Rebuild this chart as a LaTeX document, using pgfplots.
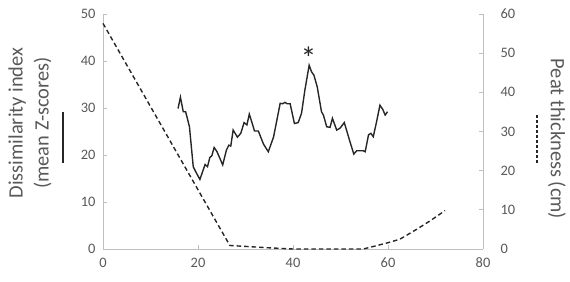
\documentclass[border=0pt]{standalone}
\usepackage{fontspec}
\setmainfont{Carlito}
\usepackage{pgfplots}
\pgfplotsset{compat=1.18}
\definecolor{axgray}{HTML}{BFBFBF}
\definecolor{txtgray}{HTML}{595959}
\definecolor{lncol}{HTML}{262626}
\begin{document}
\begin{tikzpicture}[x=1bp,y=1bp]
\path[use as bounding box] (-103,-32) rectangle (467,249);
\pgfplotsset{
  every axis/.append style={
    scale only axis, width=380bp, height=235bp,
    at={(0,0)}, anchor=origin,
    xmin=0, xmax=80,
    axis line style={axgray, line width=0.8pt},
    tick style={axgray, line width=0.8pt},
    major tick length=4bp,
    tick label style={font=\fontsize{14.5}{16}\selectfont, text=txtgray},
    /pgf/number format/assume math mode=true,
    clip=false,
  }
}
\begin{axis}[
  axis x line*=bottom, axis y line*=left,
  ymin=0, ymax=50,
  xtick={0,20,40,60,80},
  ytick={0,10,20,30,40,50},
  xtick pos=bottom, ytick pos=left,
  x tick label style={yshift=-5.5bp},
  y tick label style={xshift=-4bp},
]
\addplot[lncol, line width=1.4pt] coordinates {
(15.8,29.9)(16.3,32.3)(16.9,29.2)(17.4,29.2)(18.2,26.0)(19.0,17.5)(19.7,16.1)(20.4,14.8)
(21.5,18.0)(22.0,17.5)(22.5,19.5)(22.9,19.8)(23.4,21.6)(24.0,20.7)(25.2,17.9)(26.0,21.1)
(26.5,22.1)(26.9,21.9)(27.4,25.3)(28.3,23.8)(29.0,24.6)(29.7,26.9)(30.3,26.4)(30.8,28.7)
(31.3,27.1)(31.9,25.1)(32.7,25.1)(33.8,22.3)(34.8,20.7)(35.9,23.8)(37.3,31.0)(37.8,30.9)
(38.3,31.2)(38.8,30.9)(39.4,30.9)(40.3,26.7)(41.1,26.9)(41.8,28.9)(42.5,33.8)(43.4,39.1)
(43.9,37.7)(44.4,37.0)(45.1,34.5)(46.0,29.2)(46.4,28.5)(47.1,26.0)(47.8,25.9)(48.3,27.8)
(49.2,25.3)(49.9,25.7)(50.8,26.9)(52.0,22.8)(52.8,20.2)(53.4,20.9)(54.8,20.9)(55.2,20.7)
(55.9,24.3)(56.4,24.6)(56.9,23.9)(57.6,27.1)(58.3,30.6)(58.9,29.7)(59.4,28.5)(59.9,29.2)
};
\node[inner sep=0, font=\fontsize{32}{32}\selectfont, text=lncol] at (axis cs:43.3,40.6) {*};
\end{axis}
\begin{axis}[
  axis y line*=right, axis x line=none,
  ymin=0, ymax=60,
  ytick={0,10,20,30,40,50,60},
  ytick pos=right,
  y tick label style={xshift=14bp},
]
\addplot[lncol, line width=1.4pt, dash pattern=on 4.5bp off 3bp] coordinates {
(0,57.6)(26.7,0.9)(35,0.3)(40,0)(54.8,0)(60,1.6)(62.5,2.5)(66,5.0)(69,7.3)(72,9.8)
};
\end{axis}
\node[rotate=90, align=center, font=\fontsize{20.5}{26}\selectfont, text=txtgray] at (-73,126) {Dissimilarity index\\(mean Z-scores)};
\draw[lncol, line width=1.2pt] (-40,86) -- (-40,137);
\node[rotate=-90, font=\fontsize{20.5}{26}\selectfont, text=txtgray] at (454,110) {Peat thickness (cm)};
\draw[lncol, line width=1.2pt, dash pattern=on 3bp off 2bp] (434,86) -- (434,136);
\end{tikzpicture}
\end{document}
